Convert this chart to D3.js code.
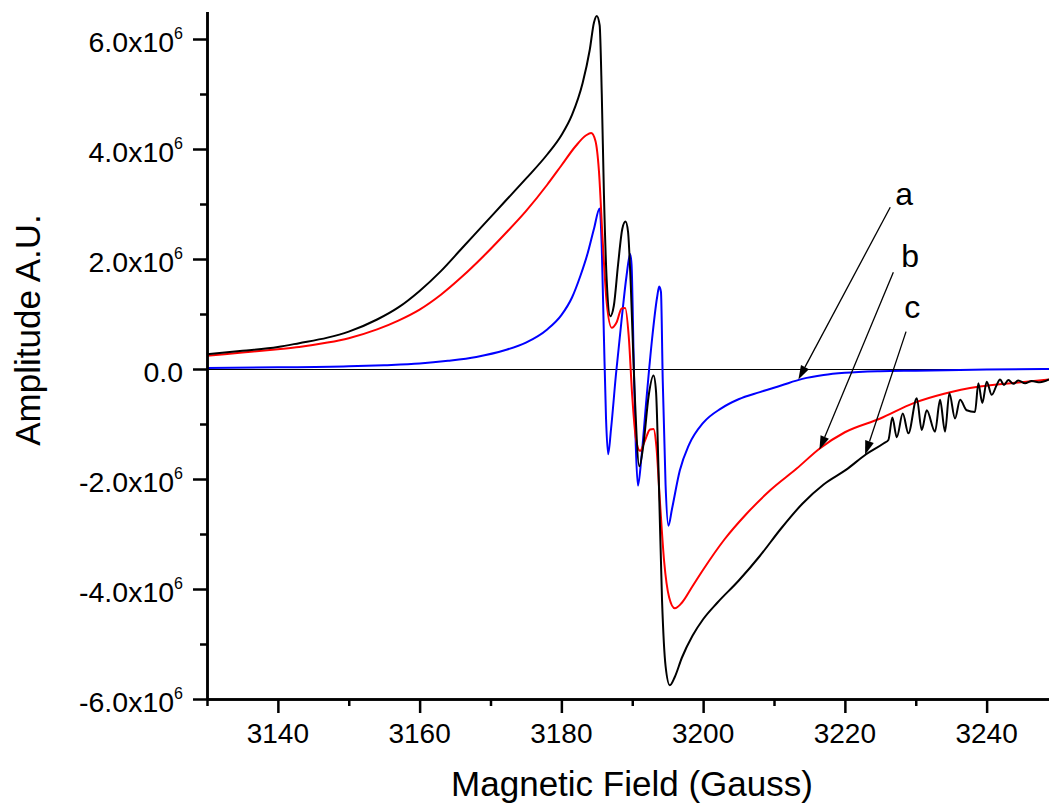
<!DOCTYPE html>
<html>
<head>
<meta charset="utf-8">
<script src="https://cdn.jsdelivr.net/npm/d3@7"></script>
<style>
  html, body { margin: 0; padding: 0; background: #fff; }
  svg { display: block; font-family: "Liberation Sans", Arial, sans-serif; }
</style>
</head>
<body>
<svg id="chart" width="1049" height="804"></svg>
<script>
// ---- data (field in Gauss, amplitude in units of 1e6) ----
const xMajorTicks = [3140, 3160, 3180, 3200, 3220, 3240];
const xMinorTicks = [3130, 3150, 3170, 3190, 3210, 3230];
const yMajorTicks = [-6, -4, -2, 0, 2, 4, 6];
const yMinorTicks = [-5, -3, -1, 1, 3, 5];
const xTitle = "Magnetic Field (Gauss)";
const yTitle = "Amplitude A.U.";

// curve a (blue)
const seriesA = [
  [3130, 0.02], [3140, 0.03], [3150, 0.05], [3155, 0.07], [3160, 0.10], [3164, 0.15],
  [3168, 0.22], [3172, 0.34], [3175, 0.48], [3178, 0.72], [3180, 0.98], [3181.5, 1.3],
  [3182.7, 1.7], [3183.7, 2.1], [3184.6, 2.55], [3185.4, 2.92], [3185.7, 2.2], [3186.0, 0.6],
  [3186.3, -0.9], [3186.6, -1.55], [3187.0, -1.1], [3187.7, -0.1], [3188.5, 0.9], [3189.2, 1.7],
  [3189.7, 2.09], [3189.9, 1.9], [3190.2, 0.2], [3190.5, -1.4], [3190.8, -2.12], [3191.3, -1.6],
  [3192.0, -0.55], [3192.8, 0.55], [3193.5, 1.3], [3193.8, 1.5], [3194.05, 1.4], [3194.3, -0.2],
  [3194.7, -2.1], [3195.1, -2.85], [3195.6, -2.55], [3196.7, -1.85], [3198, -1.38], [3200, -0.98],
  [3202.5, -0.72], [3205, -0.55], [3208, -0.42], [3211, -0.3], [3214, -0.18], [3217, -0.11],
  [3220, -0.07], [3225, -0.04], [3230, -0.03], [3240, -0.01], [3248.8, 0]
];

// curve b (red)
const seriesB = [
  [3130, 0.24], [3135, 0.30], [3140, 0.36], [3143, 0.40], [3147, 0.48], [3150, 0.56],
  [3154, 0.72], [3157, 0.88], [3160, 1.08], [3163, 1.35], [3166, 1.68], [3169, 2.05],
  [3172, 2.45], [3175, 2.87], [3178, 3.35], [3180, 3.7], [3182, 4.05], [3183.5, 4.25],
  [3184.2, 4.29], [3184.8, 4.15], [3185.3, 3.6], [3185.8, 2.4], [3186.4, 1.2], [3187.1, 0.75],
  [3187.8, 0.85], [3188.5, 1.1], [3189.0, 1.11], [3189.5, 0.6], [3190.0, -0.5], [3190.5, -1.25],
  [3191.1, -1.49], [3191.8, -1.3], [3192.5, -1.1], [3193.0, -1.09], [3193.4, -1.4], [3193.9, -2.4],
  [3194.5, -3.5], [3195.2, -4.15], [3196.0, -4.35], [3197.0, -4.25], [3198.5, -3.95], [3200, -3.65],
  [3203, -3.1], [3206, -2.65], [3209.5, -2.2], [3213.2, -1.81], [3216.5, -1.44], [3220, -1.15],
  [3225, -0.90], [3229.7, -0.62], [3234, -0.45], [3239, -0.32], [3244, -0.25], [3248.8, -0.19]
];

// curve c (black)
const seriesC = [
  [3130, 0.27], [3135, 0.33], [3140, 0.40], [3143, 0.47], [3147, 0.57], [3150, 0.68],
  [3154, 0.90], [3157, 1.12], [3160, 1.42], [3163, 1.78], [3166, 2.2], [3169, 2.62],
  [3172, 3.04], [3175, 3.46], [3178, 3.9], [3180, 4.25], [3181.5, 4.62], [3183, 5.2],
  [3184, 5.8], [3184.6, 6.3], [3185.0, 6.42], [3185.4, 6.25], [3185.7, 5.0], [3186.0, 3.2],
  [3186.4, 1.6], [3186.9, 0.96], [3187.4, 1.15], [3188.0, 1.9], [3188.6, 2.55], [3189.05, 2.68],
  [3189.4, 2.5], [3189.8, 1.5], [3190.3, -0.3], [3191.0, -1.77], [3191.6, -1.35], [3192.3, -0.5],
  [3193.0, -0.12], [3193.35, -0.4], [3193.7, -1.8], [3194.2, -4.2], [3194.7, -5.4], [3195.3, -5.75],
  [3196.0, -5.6], [3197.0, -5.25], [3198.5, -4.85], [3200, -4.55], [3202, -4.25], [3205, -3.85],
  [3208, -3.4], [3211, -2.9], [3214, -2.45], [3217, -2.1], [3220.2, -1.83], [3223.0, -1.55],
  [3225.5, -1.35], [3226.14, -1.29], [3226.7, -0.88], [3227.32, -1.24], [3228.17, -0.81],
  [3228.96, -1.17], [3230.14, -0.53], [3230.85, -1.11], [3231.55, -0.75], [3232.72, -1.14],
  [3233.43, -0.56], [3234.13, -1.14], [3234.74, -0.44], [3235.54, -0.90], [3236.25, -0.56],
  [3237.19, -0.75], [3238.36, -0.78], [3238.83, -0.26], [3239.39, -0.62], [3240.01, -0.23],
  [3240.72, -0.47], [3241.42, -0.29], [3241.89, -0.19], [3242.45, -0.29], [3243.06, -0.20],
  [3243.77, -0.27], [3244.47, -0.21], [3245.42, -0.26], [3246.36, -0.22], [3247.53, -0.24],
  [3248.8, -0.19]
];

const seriesColors = ["#0000ff", "#ff0000", "#000000"];

// annotation labels: text, label anchor [field, amp], arrow start, arrow tip
const annLabels = ["a", "b", "c"];
const annLabelPos = [[3228.35, 2.98], [3229.2, 1.86], [3229.5, 0.93]];
const annArrowFrom = [[3226.4, 2.94], [3226.84, 1.76], [3228.63, 0.68]];
const annArrowTo = [[3213.44, -0.19], [3216.4, -1.47], [3222.85, -1.56]];

// ---- layout ----
const svg = d3.select("#chart");
const plotL = 207, plotR = 1049, plotT = 11.5, plotB = 699;
const x = d3.scaleLinear().domain([3130, 3248.8]).range([plotL, plotR]);
const y = d3.scaleLinear().domain([-6, 6.5]).range([plotB, plotT]);
const font = "'Liberation Sans', Arial, sans-serif";

// zero line
svg.append("line")
  .attr("x1", plotL).attr("x2", plotR)
  .attr("y1", y(0) + 0.5).attr("y2", y(0) + 0.5)
  .attr("stroke", "#000").attr("stroke-width", 1);

// curves
const line = d3.line()
  .x(d => x(d[0])).y(d => y(d[1]))
  .curve(d3.curveMonotoneX);
[seriesA, seriesB, seriesC].forEach((s, i) => {
  svg.append("path")
    .datum(s)
    .attr("d", line)
    .attr("fill", "none")
    .attr("stroke", seriesColors[i])
    .attr("stroke-width", 2)
    .attr("stroke-linejoin", "round");
});

// axes
const axisW = 2.5;
const xAxisMajor = svg.append("g").attr("transform", `translate(0,${plotB})`)
  .call(d3.axisBottom(x).tickValues(xMajorTicks).tickSize(14).tickSizeOuter(0).tickFormat(""));
const xAxisMinor = svg.append("g").attr("transform", `translate(0,${plotB})`)
  .call(d3.axisBottom(x).tickValues(xMinorTicks).tickSize(7).tickSizeOuter(0).tickFormat(""));
const yAxisMajor = svg.append("g").attr("transform", `translate(${plotL},0)`)
  .call(d3.axisLeft(y).tickValues(yMajorTicks).tickSize(14).tickSizeOuter(0).tickFormat(""));
const yAxisMinor = svg.append("g").attr("transform", `translate(${plotL},0)`)
  .call(d3.axisLeft(y).tickValues(yMinorTicks).tickSize(7).tickSizeOuter(0).tickFormat(""));
[xAxisMajor, xAxisMinor, yAxisMajor, yAxisMinor].forEach(g => {
  g.selectAll("path.domain").attr("stroke", "#000").attr("stroke-width", axisW);
  g.selectAll(".tick line").attr("stroke", "#000").attr("stroke-width", axisW);
});

// x tick labels
svg.append("g").selectAll("text").data(xMajorTicks).join("text")
  .attr("x", d => x(d)).attr("y", 743)
  .attr("text-anchor", "middle")
  .attr("font-family", font).attr("font-size", 28)
  .text(d => d);

// y tick labels with superscript exponent
const yLab = svg.append("g").selectAll("text").data(yMajorTicks).join("text")
  .attr("x", 183).attr("y", d => y(d) + 13)
  .attr("text-anchor", "end")
  .attr("font-family", font).attr("font-size", 28.5);
yLab.each(function(d) {
  const t = d3.select(this);
  if (d === 0) {
    t.text("0.0");
  } else {
    t.append("tspan").text(d3.format(".1f")(d).replace("\u2212", "-") + "x10");
    t.append("tspan").attr("font-size", 16).attr("dy", -13).text("6");
  }
});

// axis titles
svg.append("text")
  .attr("x", (plotL + plotR) / 2 + 4).attr("y", 796)
  .attr("text-anchor", "middle")
  .attr("font-family", font).attr("font-size", 35)
  .text(xTitle);
svg.append("text")
  .attr("transform", `translate(40,330) rotate(-90)`)
  .attr("text-anchor", "middle")
  .attr("font-family", font).attr("font-size", 35)
  .text(yTitle);

// annotations
const ann = svg.append("g");
annLabels.forEach((lab, i) => {
  ann.append("text")
    .attr("x", x(annLabelPos[i][0])).attr("y", y(annLabelPos[i][1]))
    .attr("text-anchor", "middle")
    .attr("font-family", font).attr("font-size", 32)
    .text(lab);
  const x1 = x(annArrowFrom[i][0]), y1 = y(annArrowFrom[i][1]);
  const x2 = x(annArrowTo[i][0]), y2 = y(annArrowTo[i][1]);
  const ang = Math.atan2(y2 - y1, x2 - x1);
  const L = 14, W = 4.5;
  const bx = x2 - L * Math.cos(ang), by = y2 - L * Math.sin(ang);
  ann.append("line")
    .attr("x1", x1).attr("y1", y1).attr("x2", bx).attr("y2", by)
    .attr("stroke", "#000").attr("stroke-width", 1.3);
  const px = -Math.sin(ang) * W, py = Math.cos(ang) * W;
  ann.append("path")
    .attr("d", `M${x2},${y2}L${bx + px},${by + py}L${bx - px},${by - py}Z`)
    .attr("fill", "#000");
});
</script>
</body>
</html>
